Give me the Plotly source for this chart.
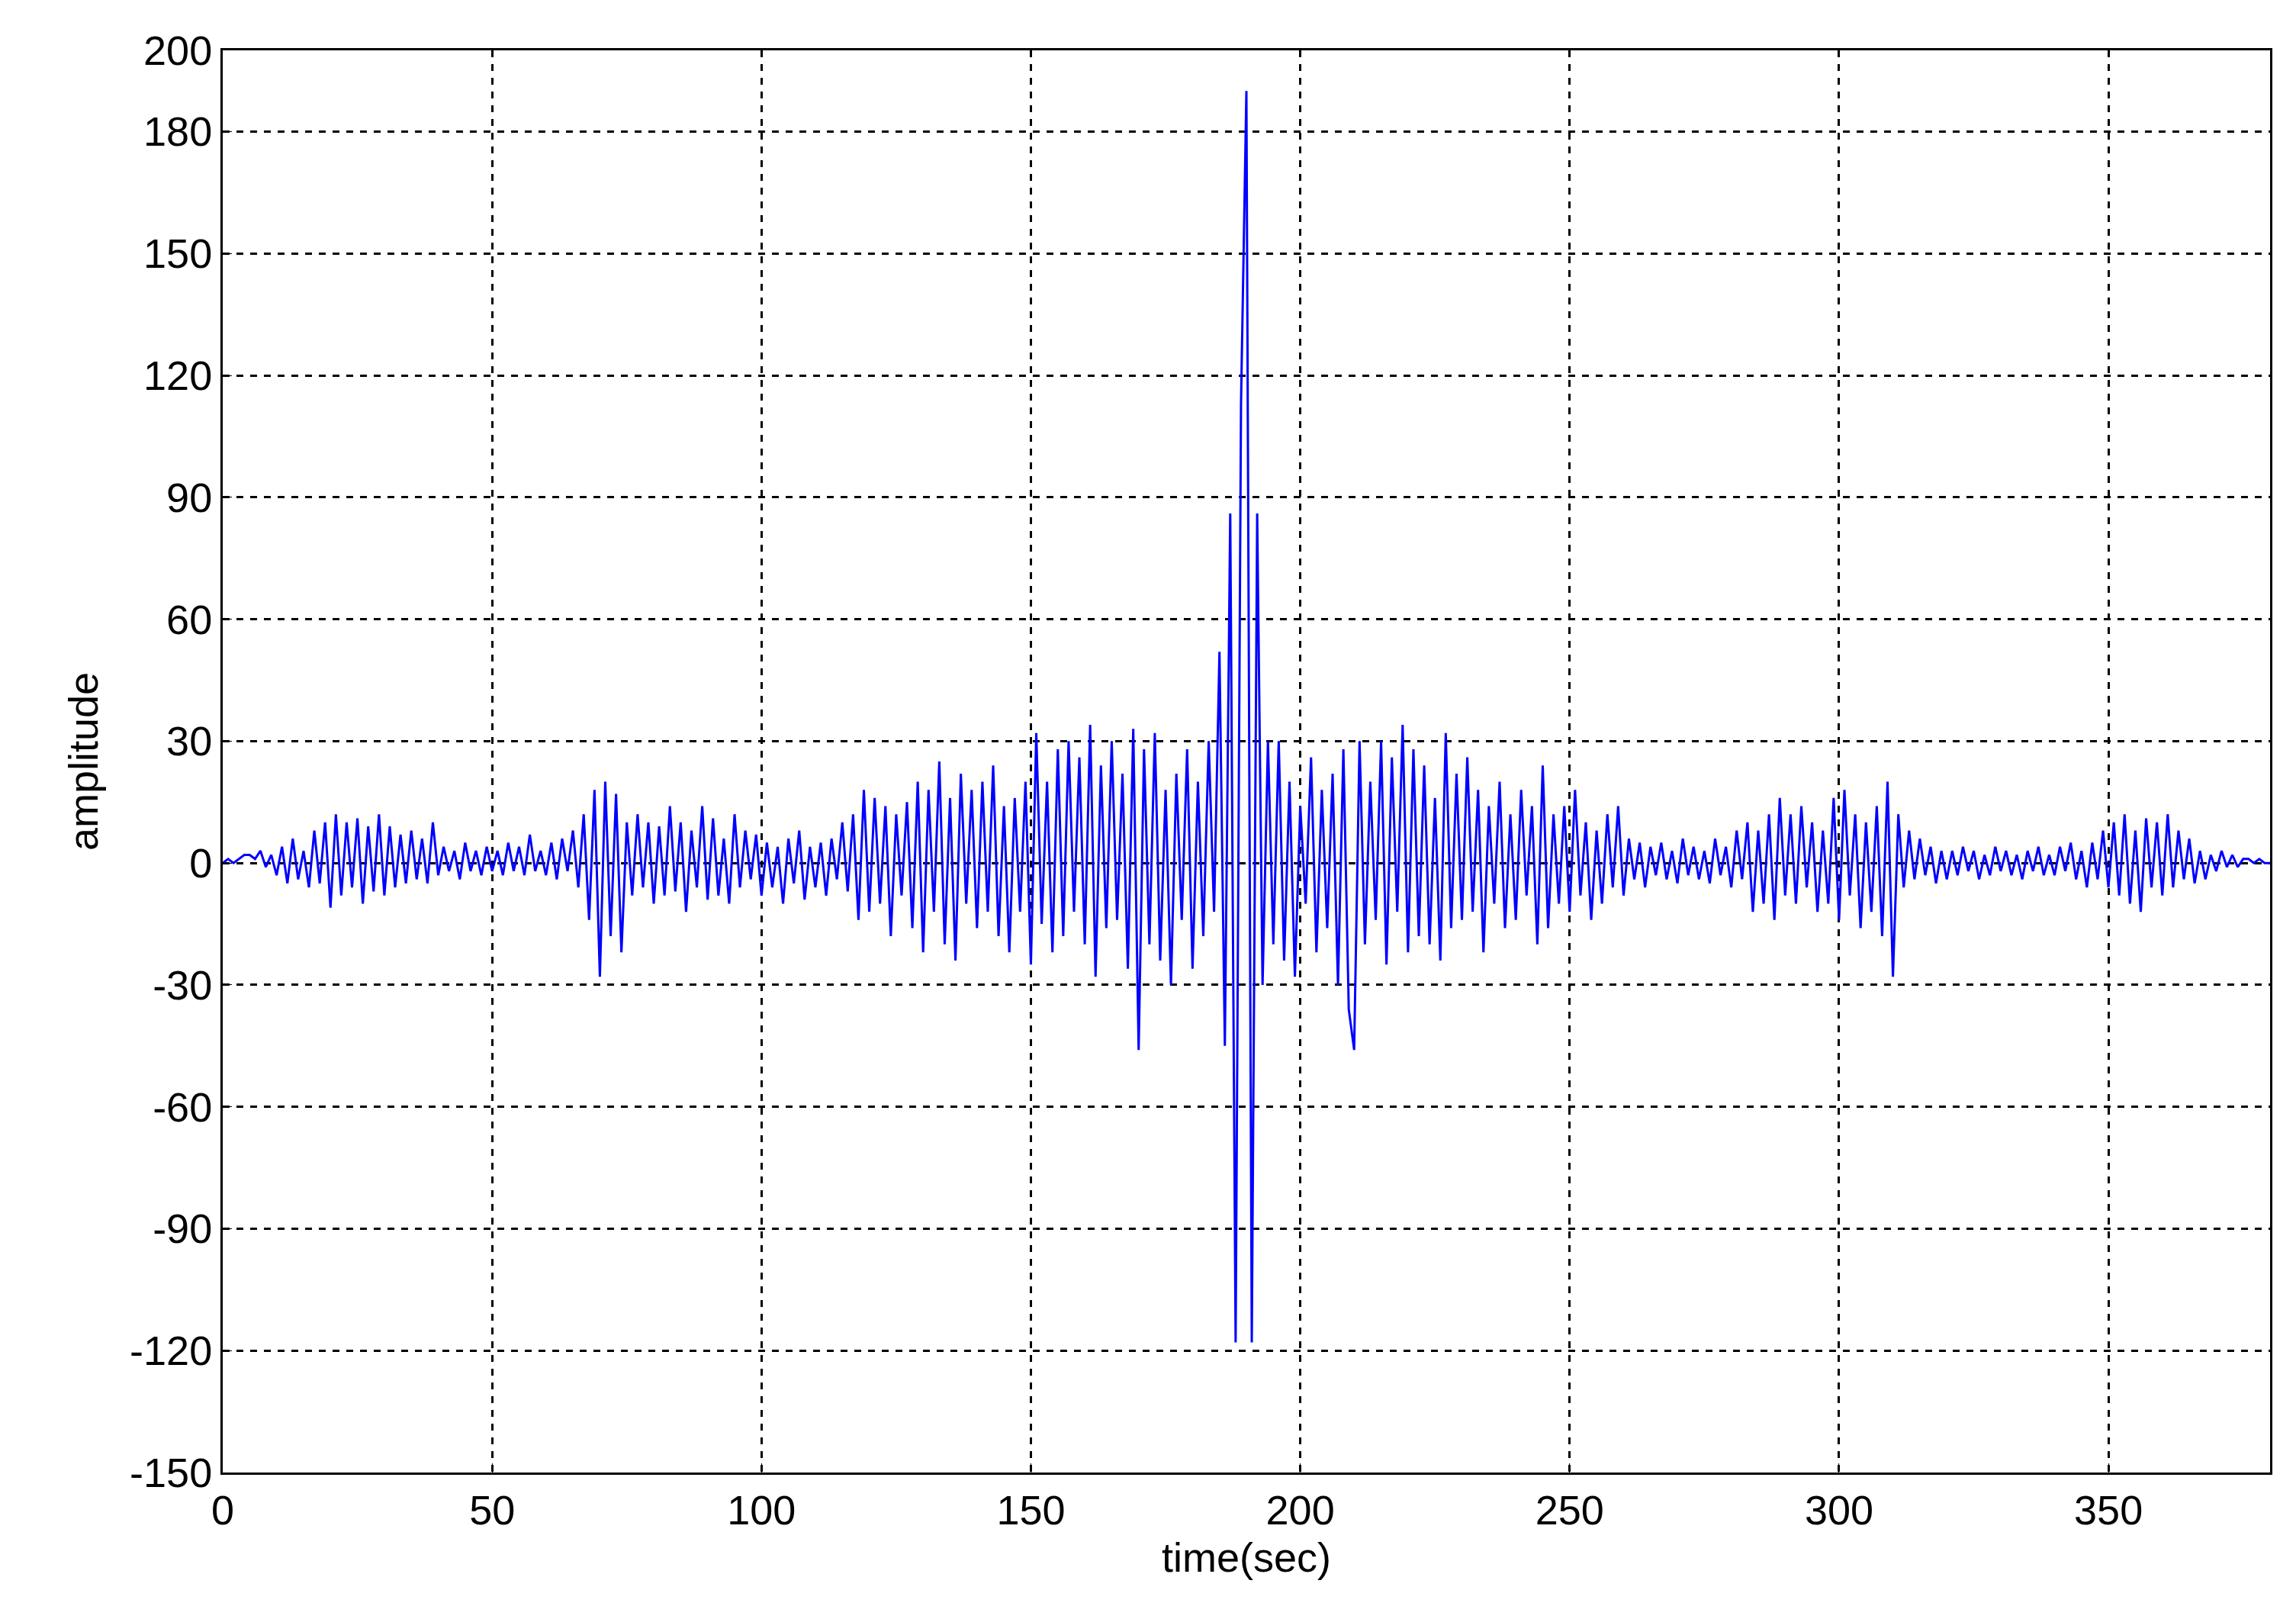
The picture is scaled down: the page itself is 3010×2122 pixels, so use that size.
import plotly.graph_objects as go

amplitude = [
0,1,0,1,2,2,1,3,-1,2,
-3,4,-5,6,-4,3,-6,8,-5,10,
-11,12,-8,10,-6,11,-10,9,-7,12,
-8,9,-6,7,-5,8,-4,6,-5,10,
-3,4,-2,3,-4,5,-2,3,-3,4,
-2,3,-3,5,-2,4,-3,7,-2,3,
-3,5,-4,6,-2,8,-6,12,-14,18,
-28,20,-18,17,-22,10,-8,12,-6,10,
-10,9,-8,14,-7,10,-12,8,-6,14,
-9,11,-8,6,-10,12,-6,8,-4,7,
-8,5,-6,4,-10,6,-5,8,-9,4,
-6,5,-8,6,-4,10,-7,12,-14,18,
-12,16,-10,14,-18,12,-8,15,-16,20,
-22,18,-12,25,-20,16,-24,22,-10,18,
-16,20,-12,24,-18,14,-22,16,-12,20,
-25,32,-15,20,-22,28,-18,30,-12,26,
-20,34,-28,24,-16,30,-14,22,-26,33,
-46,28,-20,32,-24,18,-30,22,-14,28,
-26,20,-18,30,-12,52,-45,86,-118,113,
190,-118,86,-30,30,-20,30,-24,20,-28,
14,-10,26,-22,18,-16,22,-30,28,-36,
-46,30,-20,20,-14,30,-25,26,-12,34,
-22,28,-18,24,-20,16,-24,32,-16,22,
-14,26,-12,18,-22,14,-10,20,-16,12,
-14,18,-8,14,-20,24,-16,12,-10,14,
-12,18,-8,10,-14,8,-10,12,-6,14,
-8,6,-4,5,-6,4,-3,5,-4,3,
-5,6,-3,4,-4,3,-5,6,-3,4,
-6,8,-4,10,-12,8,-10,12,-14,16,
-8,12,-10,14,-6,10,-12,8,-10,16,
-14,18,-8,12,-16,10,-12,14,-18,20,
-28,12,-6,8,-4,6,-3,4,-5,3,
-4,3,-3,4,-2,3,-4,2,-3,4,
-2,3,-3,2,-4,3,-2,4,-3,2,
-3,4,-2,5,-4,3,-6,5,-4,8,
-6,10,-8,12,-10,8,-12,11,-6,10,
-8,12,-6,8,-4,6,-5,3,-4,2,
-2,3,-1,2,-1,1,1,0,1,0,
0]
time = list(range(len(amplitude)))
y_ticks = [-150,-120,-90,-60,-30,0,30,60,90,120,150,180,200]
y_labels = [str(v) for v in y_ticks]
x_ticks = [0,50,100,150,200,250,300,350]

fnt = dict(family="Liberation Sans", size=54, color="black")
fig = go.Figure(go.Scatter(x=time, y=amplitude, mode="lines",
                           line=dict(color="#0000ff", width=3)))
ax = dict(showline=True, linecolor="black", linewidth=3, mirror=True,
          showgrid=True, gridcolor="black", griddash="dash", gridwidth=2.5,
          zeroline=False, ticks="inside", ticklen=12, tickcolor="black",
          tickfont=fnt)
fig.update_xaxes(range=[0,380], tickvals=x_ticks, title=dict(text="time(sec)", font=fnt, standoff=15), **ax)
fig.update_yaxes(range=[-150,200], tickvals=y_ticks, ticktext=y_labels,
                 title=dict(text="amplitude", font=fnt, standoff=25), **ax)
fig.update_layout(width=3010, height=2122, plot_bgcolor="white", paper_bgcolor="white",
                  margin=dict(l=284, r=42, t=58, b=200), showlegend=False)
fig.write_html("out.html")
